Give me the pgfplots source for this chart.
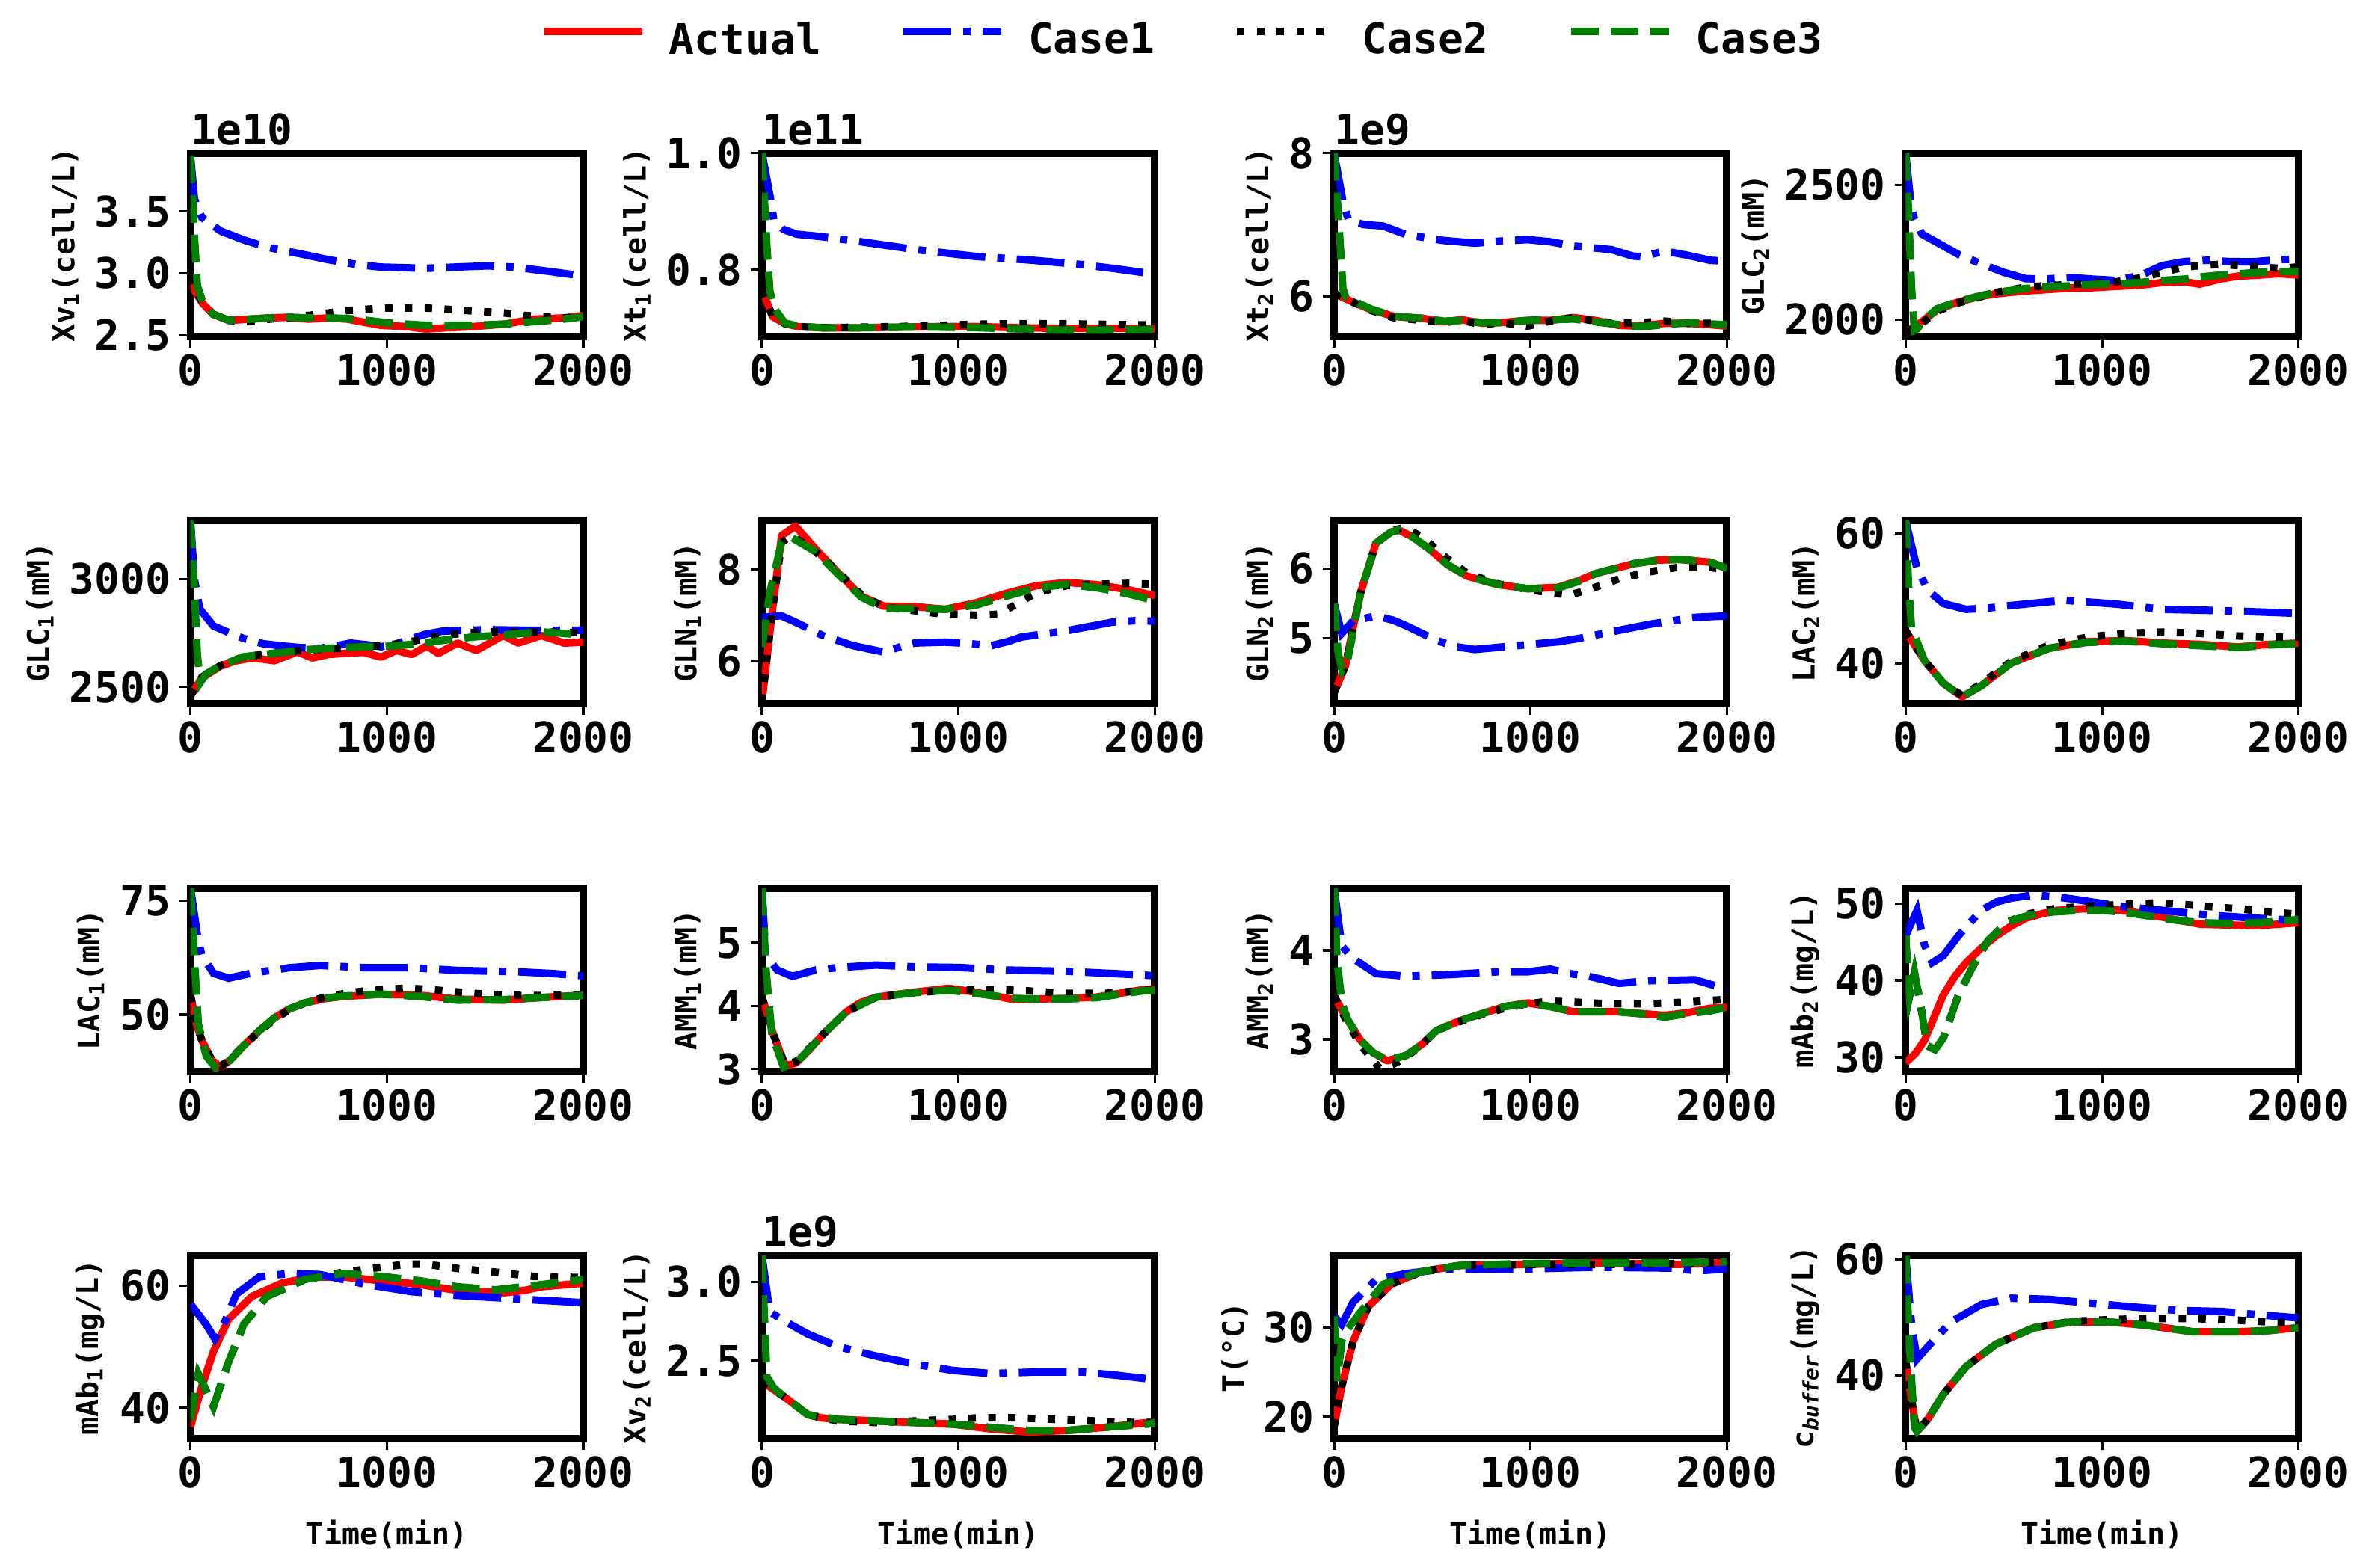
\documentclass[border=0pt]{standalone}
\usepackage{fontspec}
\setmainfont{DejaVu Sans Mono}
\usepackage{pgfplots}
\pgfplotsset{compat=1.18}
\definecolor{mplgreen}{rgb}{0,0.5,0}
\newcommand\tk{\fontsize{13.5}{16}\selectfont\bfseries}
\newcommand\lb{\fontsize{9.6}{11.5}\selectfont\bfseries}
\newcommand\sub[1]{\textsubscript{#1}}
\tikzset{
 actual/.style={red, line width=2.4pt, line join=round},
 case1/.style={blue, line width=2.4pt, dash pattern=on 15.36pt off 3.84pt on 2.4pt off 3.84pt},
 case2/.style={black, line width=2.4pt, dash pattern=on 2.4pt off 3.96pt},
 case3/.style={mplgreen, line width=2.4pt, dash pattern=on 8.88pt off 3.84pt},
}
\pgfplotsset{
 panel/.style={
  scale only axis, width=126.07pt, height=58.87pt, anchor=south west,
  xmin=0, xmax=2000, xtick={0,1000,2000}, xticklabels={0,1000,2000},
  tick align=outside, xtick pos=left, ytick pos=left,
  major tick length=3.5pt,
  tick style={black, line width=0.8pt},
  axis line style={line width=2.4pt, line cap=rect},
  tick label style={font=\tk, inner sep=0pt},
  xticklabel shift=2pt, yticklabel shift=2.7pt,
  label style={font=\lb},
  ylabel style={inner sep=4.8pt},
  xlabel style={inner sep=0pt, yshift=-10pt},
  no markers, clip mode=individual,
 },
}
\newcommand\offs[1]{\node[anchor=south west, inner sep=0pt, font=\tk] at (rel axis cs:0,1) [yshift=2.3pt] {#1};}
\begin{document}
\begin{tikzpicture}
\useasboundingbox (0,0) rectangle (758.4pt,503.28pt);
% ---------- Row 1 ----------
\begin{axis}[panel, at={(61.13pt,395.28pt)}, ymin=2.49, ymax=3.97, ytick={2.5,3.0,3.5}, yticklabels={2.5,3.0,3.5}, ylabel={Xv\sub{1}(cell/L)},
 legend style={at={(2.523,1.614)}, anchor=center, legend columns=4, draw=none, fill=none, font=\tk, inner sep=0pt,
  /tikz/every odd column/.style={column sep=7.4pt}, /tikz/every even column/.style={column sep=25.2pt}, nodes={inner sep=0pt}},
 legend image code/.code={\draw[#1] (0pt,3.0pt) -- (31.5pt,3.0pt);}]
\addplot[actual] coordinates {(0,2.97) (25,2.85) (60,2.76) (115,2.67) (195,2.62) (300,2.63) (400,2.64) (500,2.645) (600,2.63) (700,2.64) (800,2.63) (900,2.60) (970,2.58) (1100,2.57) (1200,2.55) (1300,2.56) (1440,2.57) (1600,2.59) (1750,2.63) (1900,2.64) (2000,2.66)};
\addplot[case1] coordinates {(0,3.95) (20,3.6) (58,3.45) (155,3.34) (270,3.27) (390,3.21) (550,3.16) (700,3.11) (850,3.07) (970,3.05) (1200,3.04) (1350,3.05) (1515,3.06) (1650,3.05) (1750,3.03) (1850,3.01) (1990,2.98)};
\addplot[case2] coordinates {(0,2.97) (25,2.86) (60,2.77) (115,2.67) (195,2.62) (300,2.61) (400,2.63) (500,2.64) (600,2.66) (700,2.68) (800,2.70) (900,2.71) (1000,2.72) (1100,2.72) (1200,2.72) (1300,2.71) (1400,2.70) (1500,2.69) (1600,2.68) (1700,2.66) (1800,2.65) (1900,2.64) (2000,2.64)};
\addplot[case3] coordinates {(0,3.95) (20,3.3) (35,2.9) (60,2.78) (115,2.67) (195,2.62) (300,2.63) (400,2.64) (500,2.645) (600,2.64) (700,2.64) (800,2.635) (900,2.62) (1000,2.60) (1100,2.59) (1200,2.58) (1300,2.58) (1440,2.58) (1600,2.59) (1750,2.61) (1900,2.63) (2000,2.65)};
\legend{Actual,Case1,Case2,Case3}
\offs{1e10}
\end{axis}
\begin{axis}[panel, at={(244.56pt,395.28pt)}, ymin=0.686, ymax=1.0, ytick={0.8,1.0}, yticklabels={0.8,1.0}, ylabel={Xt\sub{1}(cell/L)}]
\addplot[actual] coordinates {(0,0.765) (25,0.745) (54,0.72) (117,0.708) (181,0.703) (300,0.701) (500,0.701) (700,0.702) (900,0.703) (1100,0.703) (1300,0.701) (1500,0.700) (1700,0.700) (1900,0.700) (2000,0.699)};
\addplot[case1] coordinates {(0,1.0) (50,0.91) (60,0.885) (110,0.869) (180,0.861) (300,0.857) (466,0.850) (777,0.835) (1087,0.823) (1360,0.817) (1630,0.809) (1800,0.802) (1990,0.793)};
\addplot[case2] coordinates {(0,0.765) (25,0.745) (54,0.72) (117,0.708) (181,0.703) (300,0.701) (500,0.702) (700,0.703) (900,0.705) (1100,0.707) (1300,0.708) (1500,0.708) (1700,0.707) (1900,0.706) (2000,0.706)};
\addplot[case3] coordinates {(0,1.0) (25,0.84) (40,0.765) (60,0.735) (117,0.709) (181,0.704) (300,0.701) (500,0.701) (700,0.702) (900,0.702) (1100,0.701) (1300,0.699) (1500,0.697) (1700,0.697) (2000,0.698)};
\offs{1e11}
\end{axis}
\begin{axis}[panel, at={(428.16pt,395.28pt)}, ymin=5.435, ymax=8.0, ytick={6,8}, yticklabels={6,8}, ylabel={Xt\sub{2}(cell/L)}]
\addplot[actual] coordinates {(0,6.04) (60,5.96) (188,5.81) (300,5.72) (367,5.70) (450,5.69) (560,5.64) (650,5.67) (754,5.62) (850,5.63) (986,5.66) (1100,5.66) (1219,5.70) (1330,5.66) (1451,5.59) (1560,5.58) (1683,5.62) (1800,5.62) (1915,5.60) (2000,5.58)};
\addplot[case1] coordinates {(0,8.0) (48,7.28) (73,7.07) (150,7.0) (250,6.98) (367,6.86) (550,6.78) (716,6.74) (850,6.77) (986,6.79) (1100,6.76) (1219,6.70) (1412,6.65) (1520,6.56) (1567,6.55) (1683,6.63) (1800,6.57) (1915,6.50) (1990,6.49)};
\addplot[case2] coordinates {(0,6.04) (60,5.96) (188,5.80) (300,5.70) (450,5.66) (560,5.63) (650,5.66) (754,5.60) (850,5.63) (986,5.58) (1100,5.65) (1219,5.70) (1330,5.65) (1451,5.62) (1560,5.63) (1683,5.65) (1800,5.62) (1915,5.62) (2000,5.60)};
\addplot[case3] coordinates {(0,8.0) (25,7.0) (45,6.1) (60,5.98) (188,5.82) (300,5.72) (450,5.69) (560,5.65) (650,5.66) (754,5.63) (850,5.63) (986,5.66) (1100,5.67) (1219,5.68) (1330,5.64) (1451,5.60) (1560,5.57) (1683,5.60) (1800,5.63) (1915,5.61) (2000,5.60)};
\offs{1e9}
\end{axis}
\begin{axis}[panel, at={(611.59pt,395.28pt)}, ymin=1937, ymax=2618, ytick={2000,2500}, yticklabels={2000,2500}, ylabel={GLC\sub{2}(mM)}]
\addplot[actual] coordinates {(0,1952) (83,1992) (159,2035) (260,2063) (362,2083) (456,2095) (610,2106) (700,2110) (842,2117) (950,2118) (1073,2123) (1200,2128) (1305,2137) (1420,2140) (1498,2131) (1600,2150) (1691,2161) (1800,2165) (1900,2170) (2000,2165)};
\addplot[case1] coordinates {(0,2618) (28,2420) (45,2373) (83,2317) (150,2290) (224,2260) (273,2240) (378,2209) (500,2175) (610,2152) (700,2150) (842,2156) (950,2150) (1073,2145) (1200,2165) (1305,2200) (1420,2215) (1537,2220) (1650,2215) (1768,2214) (1900,2222) (2000,2225)};
\addplot[case2] coordinates {(0,1952) (83,1985) (159,2030) (260,2060) (362,2080) (456,2100) (610,2120) (700,2125) (842,2130) (950,2135) (1073,2140) (1200,2155) (1305,2175) (1420,2195) (1500,2200) (1600,2205) (1700,2200) (1800,2195) (1900,2190) (2000,2195)};
\addplot[case3] coordinates {(0,2618) (15,2400) (30,2120) (45,1960) (60,1965) (83,1990) (159,2040) (260,2065) (362,2085) (456,2100) (610,2115) (700,2120) (842,2125) (950,2130) (1073,2132) (1200,2138) (1305,2145) (1420,2150) (1500,2158) (1600,2165) (1700,2170) (1800,2175) (1900,2178) (2000,2178)};
\end{axis}
% ---------- Row 2 ----------
\begin{axis}[panel, at={(61.13pt,277.32pt)}, ymin=2421, ymax=3270, ytick={2500,3000}, yticklabels={2500,3000}, ylabel={GLC\sub{1}(mM)}]
\addplot[actual] coordinates {(0,2459) (58,2541) (155,2597) (230,2620) (311,2634) (370,2628) (427,2621) (544,2662) (621,2634) (700,2650) (777,2655) (880,2660) (971,2638) (1049,2669) (1126,2650) (1204,2690) (1262,2655) (1359,2703) (1456,2669) (1592,2738) (1670,2703) (1786,2738) (1903,2703) (2000,2707)};
\addplot[case1] coordinates {(0,3270) (20,3000) (47,2861) (117,2782) (200,2750) (272,2724) (370,2700) (466,2690) (560,2682) (660,2679) (740,2690) (816,2703) (900,2695) (971,2686) (1050,2700) (1126,2724) (1200,2745) (1282,2758) (1400,2762) (1515,2765) (1650,2763) (1748,2762) (1850,2762) (2000,2762)};
\addplot[case2] coordinates {(0,2459) (58,2545) (155,2600) (272,2640) (370,2650) (466,2660) (580,2670) (680,2675) (777,2680) (880,2690) (971,2690) (1100,2705) (1200,2725) (1300,2740) (1400,2750) (1500,2755) (1600,2755) (1700,2752) (1800,2755) (1900,2752) (2000,2750)};
\addplot[case3] coordinates {(0,3270) (20,2950) (35,2650) (50,2520) (80,2560) (155,2600) (272,2640) (370,2650) (466,2660) (583,2672) (680,2678) (777,2682) (880,2686) (971,2686) (1100,2695) (1200,2705) (1320,2720) (1450,2732) (1553,2738) (1650,2745) (1786,2755) (1900,2748) (2000,2740)};
\end{axis}
\begin{axis}[panel, at={(244.56pt,277.32pt)}, ymin=5.05, ymax=9.08, ytick={6,8}, yticklabels={6,8}, ylabel={GLN\sub{1}(mM)}]
\addplot[actual] coordinates {(0,5.1) (50,7.0) (100,8.75) (170,8.96) (272,8.46) (388,7.93) (505,7.42) (621,7.20) (777,7.19) (932,7.13) (1087,7.27) (1243,7.48) (1398,7.65) (1553,7.72) (1709,7.67) (1864,7.56) (2000,7.43)};
\addplot[case1] coordinates {(0,6.95) (97,6.99) (175,6.84) (311,6.55) (466,6.33) (621,6.19) (700,6.30) (777,6.39) (932,6.41) (1050,6.38) (1165,6.33) (1250,6.42) (1320,6.52) (1553,6.66) (1786,6.85) (1900,6.88) (2000,6.87)};
\addplot[case2] coordinates {(0,5.1) (50,7.0) (100,8.6) (150,8.75) (272,8.40) (388,7.95) (505,7.45) (621,7.18) (777,7.10) (932,7.02) (1087,7.00) (1200,7.02) (1300,7.25) (1398,7.50) (1553,7.65) (1709,7.68) (1864,7.70) (2000,7.68)};
\addplot[case3] coordinates {(0,6.3) (40,7.5) (100,8.6) (150,8.71) (272,8.40) (388,7.90) (505,7.40) (621,7.15) (777,7.15) (932,7.13) (1087,7.22) (1243,7.42) (1398,7.60) (1553,7.68) (1709,7.60) (1864,7.47) (2000,7.32)};
\end{axis}
\begin{axis}[panel, at={(428.16pt,277.32pt)}, ymin=4.06, ymax=6.685, ytick={5,6}, yticklabels={5,6}, ylabel={GLN\sub{2}(mM)}]
\addplot[actual] coordinates {(0,4.22) (58,4.61) (100,5.2) (135,5.65) (213,6.36) (290,6.52) (330,6.55) (400,6.45) (484,6.28) (580,6.05) (677,5.89) (832,5.77) (986,5.71) (1141,5.73) (1240,5.82) (1335,5.93) (1528,6.07) (1650,6.12) (1760,6.13) (1915,6.09) (2000,6.0)};
\addplot[case1] coordinates {(0,5.5) (39,5.07) (97,5.25) (213,5.32) (300,5.26) (367,5.18) (522,4.97) (620,4.88) (716,4.84) (909,4.89) (1141,4.95) (1250,5.0) (1373,5.07) (1605,5.20) (1838,5.30) (2000,5.32)};
\addplot[case2] coordinates {(0,4.22) (58,4.61) (135,5.65) (213,6.36) (300,6.55) (360,6.58) (450,6.45) (550,6.20) (677,5.93) (832,5.78) (986,5.70) (1100,5.65) (1200,5.62) (1300,5.70) (1450,5.85) (1600,5.95) (1760,6.02) (1900,6.02) (2000,5.98)};
\addplot[case3] coordinates {(0,5.5) (20,4.8) (40,4.55) (70,4.7) (135,5.65) (213,6.36) (290,6.52) (330,6.55) (400,6.45) (484,6.28) (580,6.05) (677,5.89) (832,5.77) (986,5.71) (1141,5.72) (1240,5.81) (1335,5.93) (1528,6.07) (1650,6.12) (1760,6.13) (1915,6.09) (2000,6.0)};
\end{axis}
\begin{axis}[panel, at={(611.59pt,277.32pt)}, ymin=33.7, ymax=62, ytick={40,60}, yticklabels={40,60}, ylabel={LAC\sub{2}(mM)}]
\addplot[actual] coordinates {(0,45.0) (96,40.4) (192,36.9) (288,34.8) (385,36.5) (538,40.0) (731,42.3) (923,43.3) (1115,43.5) (1308,43.1) (1500,42.9) (1692,42.5) (1850,42.9) (2000,43.1)};
\addplot[case1] coordinates {(0,62) (58,54.6) (115,51.2) (192,49.2) (308,48.3) (420,48.5) (538,48.9) (808,49.7) (1077,49.1) (1308,48.3) (1615,48.1) (1981,47.7)};
\addplot[case2] coordinates {(0,45.0) (96,40.4) (192,36.9) (288,35.0) (385,36.8) (538,40.3) (731,42.8) (923,44.0) (1115,44.6) (1308,44.8) (1500,44.6) (1692,44.2) (1850,44.0) (2000,44.0)};
\addplot[case3] coordinates {(0,62) (15,52) (30,45.5) (96,40.4) (192,36.9) (288,34.8) (385,36.5) (538,40.0) (731,42.3) (923,43.2) (1115,43.4) (1308,43.0) (1500,42.7) (1692,42.4) (1850,42.8) (2000,43.0)};
\end{axis}
% ---------- Row 3 ----------
\begin{axis}[panel, at={(61.13pt,159.36pt)}, ymin=37.6, ymax=77.7, ytick={50,75}, yticklabels={50,75}, ylabel={LAC\sub{1}(mM)}]
\addplot[actual] coordinates {(0,54.3) (30,48) (58,44.4) (110,40.0) (155,38.6) (200,40.0) (272,43.3) (350,46.5) (427,49.3) (500,51.2) (583,52.6) (680,53.5) (777,54.0) (971,54.5) (1165,54.3) (1359,53.4) (1592,53.2) (1800,53.8) (2000,54.3)};
\addplot[case1] coordinates {(0,77.7) (39,66.3) (58,63.0) (117,59.1) (194,58.0) (311,59.1) (505,60.3) (660,60.8) (893,60.3) (1126,60.3) (1359,59.7) (1670,59.4) (1850,59.0) (2000,58.5)};
\addplot[case2] coordinates {(0,54.3) (30,48) (58,44.4) (110,40.0) (155,38.8) (200,40.2) (272,43.3) (350,46.3) (427,49.0) (500,51.0) (583,52.6) (680,53.8) (777,54.6) (900,55.3) (1000,55.6) (1100,55.8) (1200,55.6) (1359,55.0) (1500,54.5) (1700,54.2) (2000,54.3)};
\addplot[case3] coordinates {(0,77.7) (20,62) (40,48) (80,41) (130,38.3) (200,40.0) (272,43.3) (350,46.5) (427,49.3) (500,51.2) (583,52.6) (680,53.6) (777,54.1) (971,54.5) (1165,54.0) (1359,53.2) (1592,53.3) (1800,53.8) (2000,54.2)};
\end{axis}
\begin{axis}[panel, at={(244.56pt,159.36pt)}, ymin=2.96, ymax=5.87, ytick={3,4,5}, yticklabels={3,4,5}, ylabel={AMM\sub{1}(mM)}]
\addplot[actual] coordinates {(0,4.14) (30,3.85) (58,3.55) (117,3.06) (150,3.07) (175,3.10) (240,3.3) (311,3.55) (427,3.90) (500,4.05) (583,4.14) (777,4.22) (951,4.28) (1087,4.22) (1282,4.10) (1400,4.11) (1553,4.12) (1700,4.14) (1942,4.26) (2000,4.27)};
\addplot[case1] coordinates {(0,5.87) (19,4.80) (78,4.57) (155,4.47) (272,4.57) (388,4.61) (583,4.65) (777,4.62) (1010,4.61) (1243,4.57) (1553,4.55) (1942,4.49) (2000,4.48)};
\addplot[case2] coordinates {(0,4.14) (30,3.85) (58,3.55) (117,3.07) (175,3.12) (311,3.55) (427,3.90) (583,4.14) (777,4.21) (951,4.25) (1100,4.25) (1200,4.26) (1350,4.24) (1553,4.20) (1750,4.20) (2000,4.26)};
\addplot[case3] coordinates {(0,5.87) (20,4.6) (50,3.55) (110,3.03) (175,3.10) (311,3.55) (427,3.90) (583,4.14) (777,4.21) (951,4.25) (1087,4.20) (1282,4.12) (1400,4.11) (1553,4.11) (1700,4.13) (1942,4.24) (2000,4.25)};
\end{axis}
\begin{axis}[panel, at={(428.16pt,159.36pt)}, ymin=2.64, ymax=4.70, ytick={3,4}, yticklabels={3,4}, ylabel={AMM\sub{2}(mM)}]
\addplot[actual] coordinates {(0,3.49) (60,3.25) (135,2.99) (200,2.85) (271,2.76) (367,2.82) (450,2.95) (522,3.10) (640,3.21) (754,3.29) (870,3.37) (986,3.41) (1100,3.37) (1219,3.31) (1451,3.31) (1683,3.27) (1800,3.30) (1915,3.35) (2000,3.36)};
\addplot[case1] coordinates {(0,4.70) (39,4.05) (97,3.91) (213,3.74) (367,3.71) (600,3.73) (832,3.76) (986,3.76) (1102,3.79) (1200,3.74) (1296,3.71) (1451,3.63) (1605,3.66) (1838,3.67) (1961,3.59) (2000,3.58)};
\addplot[case2] coordinates {(0,3.49) (60,3.22) (135,2.94) (230,2.68) (300,2.72) (367,2.80) (450,2.95) (522,3.10) (640,3.20) (754,3.28) (870,3.35) (986,3.40) (1100,3.43) (1219,3.42) (1400,3.40) (1600,3.40) (1800,3.42) (2000,3.45)};
\addplot[case3] coordinates {(0,4.70) (15,3.9) (40,3.40) (70,3.22) (135,2.99) (200,2.85) (271,2.77) (367,2.82) (450,2.95) (522,3.10) (640,3.21) (754,3.29) (870,3.37) (986,3.40) (1100,3.37) (1219,3.31) (1451,3.31) (1600,3.28) (1683,3.25) (1800,3.29) (1915,3.32) (2000,3.36)};
\end{axis}
\begin{axis}[panel, at={(611.59pt,159.36pt)}, ymin=28.15, ymax=52.0, ytick={30,40,50}, yticklabels={30,40,50}, ylabel={mAb\sub{2}(mg/L)}]
\addplot[actual] coordinates {(0,29.3) (50,30.5) (96,32.2) (150,35.5) (192,38.1) (250,40.5) (308,42.3) (385,44.2) (462,45.8) (540,47.1) (615,48.1) (700,48.7) (769,49.1) (900,49.3) (1000,49.3) (1100,49.1) (1231,48.6) (1350,48.0) (1500,47.3) (1650,47.2) (1769,47.1) (1900,47.3) (2000,47.5)};
\addplot[case1] coordinates {(0,45.8) (58,49.1) (96,44.6) (135,42.3) (192,43.2) (269,45.8) (385,49.1) (462,50.2) (538,50.7) (654,51.1) (750,50.9) (846,50.6) (1000,50.0) (1115,49.6) (1308,49.1) (1538,48.5) (1769,48.1) (2000,47.8)};
\addplot[case2] coordinates {(0,45.8) (20,38) (45,41) (75,37) (110,31.5) (150,31) (192,32.5) (269,38.1) (346,42) (420,45.2) (520,47.6) (620,48.6) (750,49.3) (900,49.6) (1050,49.8) (1200,50.0) (1300,50.1) (1400,49.9) (1550,49.6) (1700,49.3) (1850,48.9) (2000,48.6)};
\addplot[case3] coordinates {(0,45.8) (20,38) (45,41) (75,37) (110,31.5) (150,31) (192,32.5) (269,38.1) (346,42.0) (420,45.2) (520,47.6) (620,48.4) (750,48.9) (900,49.1) (1000,49.1) (1100,48.9) (1231,48.4) (1350,47.9) (1500,47.5) (1650,47.4) (1800,47.5) (2000,47.9)};
\end{axis}
% ---------- Row 4 ----------
\begin{axis}[panel, at={(61.13pt,41.40pt)}, ymin=34.9, ymax=64.9, ytick={40,60}, yticklabels={40,60}, ylabel={mAb\sub{1}(mg/L)}, xlabel={Time(min)}]
\addplot[actual] coordinates {(0,36.9) (58,43.5) (117,49.2) (194,54.5) (311,58.2) (466,60.4) (621,61.4) (777,61.4) (971,60.8) (1165,60.2) (1359,59.2) (1592,58.8) (1700,59.2) (1786,59.8) (2000,60.4)};
\addplot[case1] coordinates {(0,57.0) (78,53.7) (124,51.3) (175,54.1) (233,58.6) (350,61.4) (505,62.0) (660,61.8) (893,60.2) (1126,59.0) (1359,58.4) (1670,57.8) (2000,57.2)};
\addplot[case2] coordinates {(0,38) (40,45.5) (70,43.5) (117,40.2) (194,47.5) (272,53.7) (388,58.2) (583,61.0) (777,62.2) (971,63.0) (1100,63.5) (1200,63.5) (1359,62.8) (1553,62.2) (1750,61.5) (2000,61.3)};
\addplot[case3] coordinates {(0,38) (40,45.5) (70,43.5) (117,40.2) (194,47.5) (272,53.7) (388,58.2) (583,61.0) (777,62.0) (971,61.5) (1165,60.8) (1359,59.8) (1553,59.3) (1748,60.0) (2000,61.0)};
\end{axis}
\begin{axis}[panel, at={(244.56pt,41.40pt)}, ymin=2.006, ymax=3.166, ytick={2.5,3.0}, yticklabels={2.5,3.0}, ylabel={Xv\sub{2}(cell/L)}, xlabel={Time(min)}]
\addplot[actual] coordinates {(0,2.37) (117,2.27) (233,2.16) (300,2.14) (388,2.13) (583,2.12) (777,2.11) (971,2.10) (1165,2.07) (1359,2.05) (1553,2.06) (1748,2.08) (1961,2.11) (2000,2.11)};
\addplot[case1] coordinates {(0,3.166) (39,2.81) (117,2.75) (233,2.67) (388,2.59) (583,2.53) (777,2.48) (971,2.44) (1165,2.42) (1398,2.43) (1631,2.43) (1800,2.41) (1942,2.39) (2000,2.38)};
\addplot[case2] coordinates {(0,2.37) (117,2.27) (233,2.16) (388,2.12) (583,2.11) (777,2.12) (971,2.13) (1100,2.14) (1300,2.14) (1500,2.13) (1700,2.12) (1900,2.11) (2000,2.11)};
\addplot[case3] coordinates {(0,3.166) (10,2.85) (25,2.40) (60,2.33) (117,2.27) (233,2.16) (388,2.13) (583,2.12) (777,2.11) (971,2.10) (1165,2.08) (1359,2.06) (1553,2.06) (1748,2.08) (1961,2.10) (2000,2.11)};
\offs{1e9}
\end{axis}
\begin{axis}[panel, at={(428.16pt,41.40pt)}, ymin=17.5, ymax=38.0, ytick={20,30}, yticklabels={20,30}, ylabel={T(°C)}, xlabel={Time(min)}]
\addplot[actual] coordinates {(0,18.9) (39,23.4) (97,28.4) (174,32.3) (290,34.8) (445,36.2) (638,36.9) (948,37.0) (1335,37.2) (1722,37.0) (2000,37.2)};
\addplot[case1] coordinates {(0,31.2) (39,30.3) (97,32.8) (213,35.3) (367,36.0) (561,36.5) (948,36.5) (1335,36.7) (1722,36.6) (1850,36.3) (2000,36.5)};
\addplot[case2] coordinates {(0,18.9) (39,23.4) (97,28.4) (174,32.3) (290,34.8) (445,36.2) (638,36.9) (948,37.0) (1335,37.0) (1722,37.1) (2000,37.2)};
\addplot[case3] coordinates {(0,31.2) (15,24) (40,28.5) (60,29.5) (135,31.7) (251,34.8) (445,36.2) (638,36.9) (948,37.1) (1335,37.2) (1722,37.2) (2000,37.3)};
\end{axis}
\begin{axis}[panel, at={(611.59pt,41.40pt)}, ymin=29.0, ymax=60.65, ytick={40,60}, yticklabels={40,60}, ylabel={c\sub{\itshape buffer}(mg/L)}, xlabel={Time(min)}]
\addplot[actual] coordinates {(0,42.4) (31,35.5) (58,30.3) (115,32.5) (192,36.7) (308,41.5) (462,45.4) (654,48.2) (846,49.2) (1038,49.2) (1231,48.6) (1462,47.5) (1692,47.5) (1850,47.7) (2000,48.2)};
\addplot[case1] coordinates {(0,60.6) (31,48.4) (58,42.8) (115,45.0) (231,49.2) (385,52.2) (538,53.3) (731,53.1) (923,52.5) (1154,51.8) (1385,51.2) (1615,51.0) (1846,50.3) (2000,49.9)};
\addplot[case2] coordinates {(0,42.4) (31,35.5) (58,30.3) (115,32.5) (192,36.7) (308,41.5) (462,45.4) (654,48.2) (846,49.3) (1038,49.6) (1231,49.8) (1462,49.8) (1692,49.5) (1850,49.2) (2000,49.0)};
\addplot[case3] coordinates {(0,60.6) (20,45) (45,31) (58,30.3) (115,32.5) (192,36.7) (308,41.5) (462,45.4) (654,48.2) (846,49.2) (1038,49.2) (1231,48.6) (1462,47.5) (1692,47.5) (1850,47.7) (2000,48.2)};
\end{axis}
\end{tikzpicture}
\end{document}
